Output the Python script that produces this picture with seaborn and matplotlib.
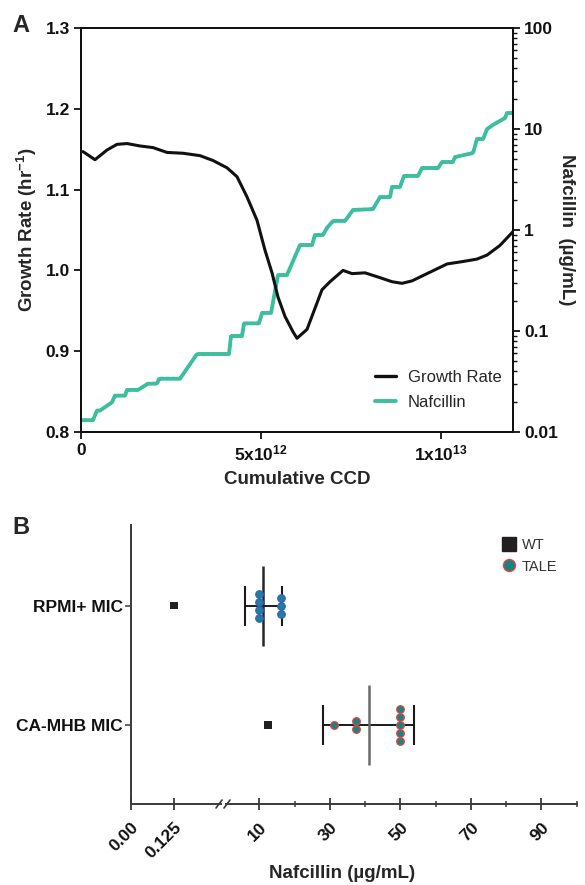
import matplotlib
matplotlib.use('Agg')
import matplotlib.pyplot as plt
from matplotlib.lines import Line2D
from matplotlib.ticker import FixedLocator, FuncFormatter, LogLocator, NullFormatter
import numpy as np
import pandas as pd
import seaborn as sns

# ---- panel A data (cumulative CCD in units of 1e12) ----
growth_ccd = [0.056, 0.389, 0.722, 1.0, 1.278, 1.639, 2.0, 2.389, 2.833, 3.306,
              3.667, 4.056, 4.333, 4.611, 4.889, 5.111, 5.306, 5.472, 5.667, 5.889,
              6.0, 6.278, 6.694, 6.917, 7.278, 7.528, 7.889, 8.306, 8.639, 8.917,
              9.194, 9.611, 10.17, 10.61, 11.0, 11.28, 11.64, 12.0]
growth_rate = [1.147, 1.137, 1.149, 1.156, 1.157, 1.154, 1.152, 1.146, 1.145, 1.142,
               1.136, 1.127, 1.116, 1.091, 1.062, 1.025, 0.997, 0.967, 0.943, 0.924,
               0.916, 0.927, 0.976, 0.986, 1.000, 0.996, 0.997, 0.991, 0.986, 0.984,
               0.987, 0.996, 1.008, 1.011, 1.014, 1.019, 1.031, 1.048]

naf_ccd = [0, 0.333, 0.444, 0.528, 0.861, 0.944, 1.222, 1.278, 1.583, 1.861,
           2.111, 2.167, 2.75, 3.222, 4.111, 4.167, 4.472, 4.528, 4.944, 5.028,
           5.278, 5.472, 5.722, 6.083, 6.417, 6.5, 6.722, 6.833, 7.0, 7.333,
           7.556, 8.111, 8.306, 8.583, 8.639, 8.861, 8.972, 9.361, 9.472, 9.917,
           10.03, 10.33, 10.39, 10.89, 11.0, 11.17, 11.28, 11.44, 11.78, 11.83, 12.0]
naf_conc = [0.0131, 0.0131, 0.0163, 0.0163, 0.0197, 0.0229, 0.0229, 0.0261, 0.0261, 0.0301,
            0.0301, 0.0337, 0.0337, 0.0592, 0.0592, 0.0892, 0.0892, 0.119, 0.119, 0.151,
            0.151, 0.358, 0.358, 0.71, 0.71, 0.892, 0.892, 1.05, 1.23, 1.23,
            1.58, 1.61, 2.12, 2.12, 2.67, 2.67, 3.43, 3.43, 4.11, 4.11,
            4.71, 4.71, 5.28, 5.78, 7.96, 7.96, 10.0, 10.96, 12.85, 14.4, 14.4]

# ---- panel B data ----
conditions = ['RPMI+ MIC', 'CA-MHB MIC']
wt_mic = [0.125, 12.5]
tale_rpmi = [10, 10, 10, 10, 16, 16, 16]
tale_camhb = [31.25, 37.5, 37.5, 50, 50, 50, 50, 50]
tale_mean = [11.1, 41.0]
tale_sd = [5.3, 12.9]
low_ticks = [0, 0.125]
low_labels = ['0.00', '0.125']
high_ticks = [10, 30, 50, 70, 90]
high_minor = [20, 40, 60, 80, 100]

sns.set_theme(style='ticks')
plt.rcParams['font.family'] = ['Liberation Sans', 'DejaVu Sans']
plt.rcParams['mathtext.fontset'] = 'custom'
plt.rcParams['mathtext.rm'] = 'Liberation Sans'
plt.rcParams['mathtext.bf'] = 'Liberation Sans:bold'
plt.rcParams['mathtext.it'] = 'Liberation Sans:italic'

W, H = 585, 885
def fx(px):
    return px / W
def fy(py):
    return 1 - py / H

fig = plt.figure(figsize=(5.85, 8.85), dpi=100)

green = '#3DBE9E'
naf_dash = (0, (1.0, 0.45))

# ================= Panel A =================
ax = fig.add_axes([fx(81), fy(432), fx(513) - fx(81), fy(28) - fy(432)])
ax2 = ax.twinx()

sns.lineplot(x=np.array(naf_ccd) * 1e12, y=naf_conc, ax=ax2, color=green, lw=2.8,
             sort=False, estimator=None, legend=False,
             linestyle=naf_dash, dash_capstyle='round')
sns.lineplot(x=np.array(growth_ccd) * 1e12, y=growth_rate, ax=ax, color='#111111', lw=2.2,
             sort=False, estimator=None, legend=False)
ax.set_zorder(ax2.get_zorder() + 1)
ax.patch.set_visible(False)

ax.set_xlim(0, 1.2e13)
ax.set_ylim(0.8, 1.3)
ax.set_yticks([0.8, 0.9, 1.0, 1.1, 1.2, 1.3])
ax.set_yticklabels(['0.8', '0.9', '1.0', '1.1', '1.2', '1.3'])
ax.set_xticks([0, 5e12, 1e13])
ax.set_xticklabels(['0', r'5x10$^{\mathbf{12}}$', r'1x10$^{\mathbf{13}}$'])

ax2.set_yscale('log')
ax2.set_ylim(0.01, 100)
ax2.yaxis.set_major_locator(FixedLocator([0.01, 0.1, 1, 10, 100]))
ax2.yaxis.set_major_formatter(FuncFormatter(lambda v, _: f'{v:g}'))
ax2.yaxis.set_minor_locator(LogLocator(base=10, subs=np.arange(2, 10)))
ax2.yaxis.set_minor_formatter(NullFormatter())

for a in (ax, ax2):
    for s in a.spines.values():
        s.set_linewidth(1.4)
        s.set_color('#111111')
    a.tick_params(axis='both', which='major', length=5, width=1.3, labelsize=12.5,
                  colors='#111111', pad=3)
    for lab in a.get_xticklabels() + a.get_yticklabels():
        lab.set_fontweight('bold')
ax2.tick_params(axis='y', which='minor', length=3, width=1.0, colors='#111111')

ax.set_xlabel('Cumulative CCD', fontsize=13.5, fontweight='bold', labelpad=6)
ax.set_ylabel(r'Growth Rate (hr$^{\mathbf{-1}}$)', fontsize=13.5, fontweight='bold', labelpad=5)
ax2.set_ylabel('Nafcillin  (µg/mL)', fontsize=13.5, fontweight='bold', rotation=270, labelpad=12)

hA = [Line2D([], [], color='#111111', lw=2.4, label='Growth Rate'),
      Line2D([], [], color=green, lw=2.8, linestyle=naf_dash, dash_capstyle='round', label='Nafcillin')]
ax.legend(handles=hA, loc='lower left', bbox_to_anchor=(0.68, 0.055), frameon=False,
          fontsize=12, handlelength=1.3, handletextpad=0.7, labelspacing=0.6,
          borderpad=0, borderaxespad=0)

fig.text(fx(12), fy(26), 'A', fontsize=17, fontweight='bold', ha='left', va='center')

# ================= Panel B =================
axL = fig.add_axes([fx(131), fy(804), fx(221) - fx(131), fy(525) - fy(804)])
axR = fig.add_axes([fx(226), fy(804), fx(576.7) - fx(226), fy(525) - fy(804)], sharey=axL)

row_step = 0.067
tale_df = pd.DataFrame({'mic': tale_rpmi + tale_camhb,
                        'row': [0] * len(tale_rpmi) + [1] * len(tale_camhb)})
k = tale_df.groupby(['row', 'mic']).cumcount()
n = tale_df.groupby(['row', 'mic'])['mic'].transform('count')
tale_df['pos'] = tale_df['row'] + (k - (n - 1) / 2) * row_step

wt_df = pd.DataFrame({'mic': wt_mic, 'row': [0, 1]})

axis_col = '#3a3a3a'
bar_cols = ['#262626', '#6a6a6a']
for r in (0, 1):
    axR.errorbar(tale_mean[r], r, xerr=tale_sd[r], fmt='none', ecolor='#1a1a1a',
                 elinewidth=1.4, capsize=14.4, capthick=1.5, zorder=2)
    axR.plot(tale_mean[r], r, ls='none', marker='|', ms=57.6, mew=1.8,
             color=bar_cols[r], zorder=2)

sns.scatterplot(data=tale_df[tale_df['row'] == 0], x='mic', y='pos', ax=axR,
                color='#1f7f9c', edgecolor='#3a5bc8', s=30, linewidth=0.8, zorder=4, legend=False)
sns.scatterplot(data=tale_df[tale_df['row'] == 1], x='mic', y='pos', ax=axR,
                color='#178383', edgecolor='#e8413c', s=30, linewidth=0.9, zorder=4, legend=False)
sns.scatterplot(data=wt_df[wt_df['mic'] < 1], x='mic', y='row', ax=axL, marker='s',
                color='#231f20', edgecolor='none', s=32, zorder=4, legend=False)
sns.scatterplot(data=wt_df[wt_df['mic'] >= 1], x='mic', y='row', ax=axR, marker='s',
                color='#231f20', edgecolor='none', s=32, zorder=4, legend=False)

axL.set_xlim(0, 0.26)
axR.set_xlim(0.5, 100)
axL.set_ylim(1.661, -0.674)

axL.set_yticks([0, 1])
axL.set_yticklabels(conditions, fontsize=12.5, fontweight='bold')
axL.set_xticks(low_ticks)
axL.set_xticklabels(low_labels, rotation=45, ha='right', va='top',
                    rotation_mode='anchor', fontsize=12.5, fontweight='bold')
axR.set_xticks(high_ticks)
axR.set_xticklabels([str(t) for t in high_ticks], rotation=45, ha='right', va='top',
                    rotation_mode='anchor', fontsize=12.5, fontweight='bold')
axR.xaxis.set_minor_locator(FixedLocator(high_minor))

for a in (axL, axR):
    a.set_xlabel('')
    a.set_ylabel('')
    a.spines['top'].set_visible(False)
    a.spines['right'].set_visible(False)
    for s in a.spines.values():
        s.set_linewidth(1.4)
        s.set_color(axis_col)
    a.tick_params(axis='x', which='major', direction='inout', length=9, width=1.3,
                  colors=axis_col, labelcolor='#111111', pad=7)
    a.tick_params(axis='x', which='minor', direction='inout', length=4.5, width=1.1,
                  colors=axis_col)
axL.tick_params(axis='y', which='major', direction='out', length=4, width=1.1,
                colors=axis_col, labelcolor='#111111', pad=2)
axR.spines['left'].set_visible(False)
axR.tick_params(axis='y', left=False, labelleft=False)

# break marks on the x axis
for cx in (219, 227):
    fig.add_artist(Line2D([fx(cx - 3), fx(cx + 3)], [fy(808), fy(800)],
                          transform=fig.transFigure, color=axis_col, lw=1.2))

fig.text(fx(342), fy(873), 'Nafcillin (µg/mL)', fontsize=13.5, fontweight='bold',
         ha='center', va='center')

hB = [Line2D([], [], ls='none', marker='s', ms=10, color='#231f20', label='WT'),
      Line2D([], [], ls='none', marker='o', ms=8.6, markerfacecolor='#178383',
             markeredgecolor='#e8413c', markeredgewidth=1.0, label='TALE')]
fig.legend(handles=hB, loc='upper left', bbox_to_anchor=(fx(494), fy(531)), frameon=False,
           fontsize=10.5, handlelength=1.0, handletextpad=0.4, labelspacing=0.5,
           borderpad=0, labelcolor='#333333')

fig.text(fx(12), fy(527), 'B', fontsize=17, fontweight='bold', ha='left', va='center')

fig.savefig('out.png', dpi=100)
